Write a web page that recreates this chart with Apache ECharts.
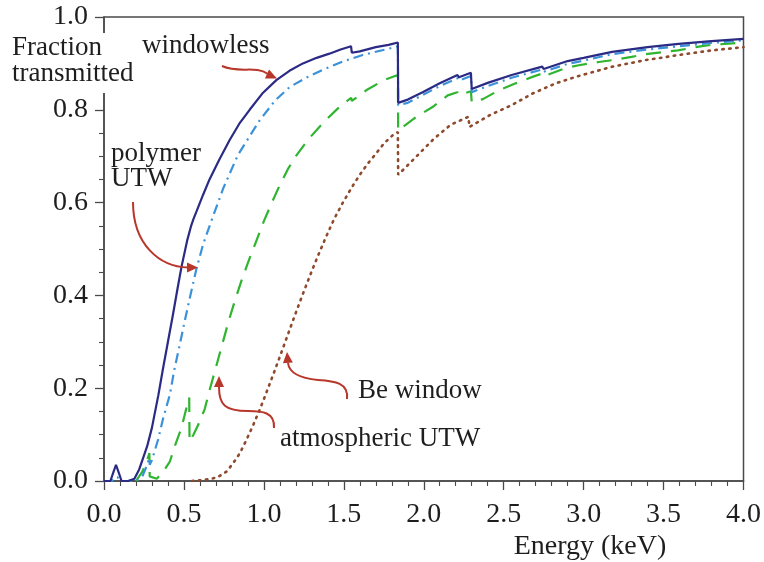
<!DOCTYPE html>
<html>
<head>
<meta charset="utf-8">
<script src="https://cdn.jsdelivr.net/npm/echarts@6/dist/echarts.min.js"></script>
<style>
html,body{margin:0;padding:0;background:#fff;}
#chart{width:764px;height:562px;}
</style>
</head>
<body>
<div id="chart"></div>
<script>
// ---- data (Energy keV, fraction transmitted) ----
const windowlessE = [0.00,0.04,0.06,0.075,0.09,0.11,0.15,0.19,0.22,0.245,0.27,0.30,0.34,0.37,0.40,0.432,0.46,0.485,0.52,0.545,0.56,0.58,0.62,0.66,0.72,0.786,0.85,0.911,0.99,1.078,1.16,1.244,1.33,1.41,1.48,1.545,1.55,1.60,1.70,1.78,1.838,1.840,1.90,1.993,2.10,2.211,2.22,2.23,2.295,2.30,2.40,2.55,2.741,2.75,2.76,2.90,3.00,3.178,3.40,3.594,3.80,4.00];
const windowlessT = [0,0,0.02,0.035,0.02,0,0,0.005,0.025,0.05,0.075,0.115,0.185,0.244,0.30,0.36,0.415,0.462,0.518,0.55,0.565,0.582,0.617,0.65,0.692,0.735,0.772,0.80,0.835,0.864,0.884,0.90,0.912,0.921,0.93,0.937,0.923,0.926,0.935,0.94,0.945,0.815,0.822,0.838,0.857,0.875,0.870,0.874,0.880,0.845,0.858,0.875,0.893,0.888,0.892,0.905,0.912,0.925,0.935,0.942,0.948,0.953];

const polymerE = [0.00,0.05,0.065,0.075,0.085,0.10,0.20,0.24,0.27,0.284,0.286,0.30,0.339,0.37,0.412,0.44,0.474,0.505,0.537,0.578,0.62,0.672,0.745,0.838,0.973,1.07,1.161,1.27,1.368,1.50,1.618,1.70,1.785,1.838,1.840,1.90,1.993,2.10,2.211,2.22,2.23,2.295,2.30,2.40,2.55,2.741,2.75,2.76,2.90,3.00,3.178,3.40,3.594,3.80,4.00];
const polymerT = [0,0,0.008,0.012,0.008,0,0,0.01,0.035,0.05,0.035,0.045,0.09,0.135,0.186,0.24,0.294,0.345,0.395,0.457,0.51,0.561,0.63,0.703,0.777,0.82,0.849,0.87,0.886,0.905,0.918,0.925,0.932,0.937,0.81,0.815,0.832,0.851,0.868,0.863,0.867,0.873,0.838,0.851,0.869,0.887,0.882,0.886,0.899,0.906,0.92,0.93,0.937,0.944,0.95];

const atmosE = [0.20,0.24,0.27,0.284,0.286,0.33,0.37,0.412,0.443,0.485,0.51,0.533,0.535,0.56,0.588,0.63,0.66,0.70,0.74,0.78,0.82,0.86,0.90,0.95,1.00,1.05,1.10,1.15,1.20,1.28,1.37,1.46,1.546,1.55,1.56,1.64,1.75,1.838,1.840,1.95,2.055,2.15,2.21,2.22,2.23,2.295,2.30,2.37,2.47,2.575,2.68,2.74,2.75,2.76,2.887,2.97,3.095,3.18,3.30,3.39,3.51,3.59,3.72,3.80,3.93,4.00];
const atmosT = [0,0.02,0.045,0.06,0.01,0.005,0.02,0.042,0.075,0.115,0.15,0.18,0.085,0.10,0.12,0.155,0.195,0.245,0.295,0.345,0.39,0.432,0.47,0.515,0.56,0.60,0.638,0.672,0.70,0.737,0.772,0.802,0.826,0.819,0.823,0.842,0.864,0.875,0.755,0.784,0.806,0.831,0.838,0.832,0.836,0.84,0.817,0.823,0.842,0.857,0.871,0.878,0.872,0.876,0.89,0.896,0.903,0.907,0.914,0.92,0.925,0.928,0.936,0.94,0.943,0.945];

const beE = [0.55,0.61,0.66,0.71,0.766,0.807,0.85,0.89,0.93,0.973,1.005,1.057,1.10,1.14,1.18,1.223,1.265,1.306,1.35,1.39,1.44,1.494,1.55,1.60,1.65,1.70,1.75,1.805,1.838,1.840,1.878,1.97,2.065,2.17,2.28,2.285,2.41,2.55,2.68,2.825,2.97,3.18,3.386,3.594,3.80,4.00];
const beT = [0,0.002,0.004,0.008,0.02,0.038,0.06,0.088,0.118,0.153,0.181,0.228,0.268,0.306,0.344,0.384,0.422,0.458,0.495,0.527,0.565,0.6,0.633,0.66,0.684,0.705,0.727,0.745,0.752,0.66,0.673,0.705,0.738,0.768,0.785,0.763,0.788,0.81,0.835,0.857,0.873,0.893,0.907,0.918,0.928,0.935];

const seriesNames = ['windowless','polymer UTW','atmospheric UTW','Be window'];
const yAxisTitle = ['Fraction','transmitted'];
const xAxisTitle = 'Energy (keV)';

// ---- rendering ----
const FONT = '"Liberation Serif","Times New Roman",serif';
const TXT = '#1e1e1e';
const ARROW = '#b8372b';
const zip = (xs, ys) => xs.map((x, i) => [x, ys[i]]);

function arrowHead(tx, ty, dx, dy, len, half) {
  const m = Math.hypot(dx, dy); dx /= m; dy /= m;
  const bx = tx - dx * len, by = ty - dy * len;
  return { type: 'polygon', z: 120, shape: { points: [[tx, ty], [bx - dy * half, by + dx * half], [bx + dy * half, by - dx * half]] }, style: { fill: ARROW } };
}
function curve(x1, y1, c1x, c1y, c2x, c2y, x2, y2) {
  return { type: 'bezierCurve', z: 120, shape: { x1, y1, cpx1: c1x, cpy1: c1y, cpx2: c2x, cpy2: c2y, x2, y2 }, style: { stroke: ARROW, lineWidth: 2, fill: null } };
}
function label(text, x, baseline) {
  return { type: 'text', z: 130, x: x, y: baseline - 9, style: { text: text, font: '27px ' + FONT, fill: TXT, textAlign: 'left', textVerticalAlign: 'middle' } };
}

const chart = echarts.init(document.getElementById('chart'), null, { renderer: 'canvas' });
const axisCommon = {
  type: 'value',
  axisLine: { show: true, lineStyle: { color: '#4a4a4a', width: 1.5 } },
  axisTick: { show: true, length: 9, lineStyle: { color: '#4a4a4a', width: 1.3 } },
  minorTick: { show: true, length: 5, lineStyle: { color: '#4a4a4a', width: 1.1 } },
  splitLine: { show: false },
  minorSplitLine: { show: false }
};
chart.setOption({
  animation: false,
  backgroundColor: '#ffffff',
  grid: { left: 104, right: 19, top: 17, bottom: 81, show: true, borderColor: '#4a4a4a', borderWidth: 1.5, backgroundColor: 'transparent' },
  xAxis: Object.assign({}, axisCommon, {
    min: 0, max: 4, interval: 0.5,
    minorTick: Object.assign({}, axisCommon.minorTick, { splitNumber: 5 }),
    axisLabel: { fontFamily: FONT, fontSize: 28, color: TXT, margin: 20, formatter: v => v.toFixed(1) }
  }),
  yAxis: Object.assign({}, axisCommon, {
    min: 0, max: 1, interval: 0.2,
    minorTick: Object.assign({}, axisCommon.minorTick, { splitNumber: 4 }),
    axisLabel: { fontFamily: FONT, fontSize: 28, color: TXT, margin: 16, formatter: v => v.toFixed(1) }
  }),
  series: [
    { name: seriesNames[3], type: 'line', data: zip(beE, beT), showSymbol: false, symbol: 'none',
      lineStyle: { color: '#8e4a2c', width: 2.6, type: [1.5, 5.5], cap: 'round' } },
    { name: seriesNames[2], type: 'line', data: zip(atmosE, atmosT), showSymbol: false, symbol: 'none',
      lineStyle: { color: '#2fb52f', width: 2.2, type: [15, 10] } },
    { name: seriesNames[1], type: 'line', data: zip(polymerE, polymerT), showSymbol: false, symbol: 'none',
      lineStyle: { color: '#3b92d9', width: 2.2, type: [10, 5, 2, 5] } },
    { name: seriesNames[0], type: 'line', data: zip(windowlessE, windowlessT), showSymbol: false, symbol: 'none',
      lineStyle: { color: '#2b2a85', width: 2.2 } }
  ],
  graphic: [
    // gap in the left axis where the axis title sits
    { type: 'rect', z: 110, shape: { x: 98, y: 33, width: 12, height: 60 }, style: { fill: '#ffffff' } },
    label(yAxisTitle[0], 12, 57),
    label(yAxisTitle[1], 12, 83),
    label(seriesNames[0], 142, 55),
    label('polymer', 111, 163),
    label('UTW', 111, 188),
    label(seriesNames[3], 358, 400),
    label(seriesNames[2], 280, 448),
    { type: 'text', z: 130, x: 590, y: 547, style: { text: xAxisTitle, font: '28px ' + FONT, fill: TXT, textAlign: 'center', textVerticalAlign: 'middle' } },
    // arrows
    curve(222, 66, 240, 74, 255, 65, 268, 74),
    arrowHead(277, 78.5, 1, 0.45, 11, 5),
    curve(133, 202, 133, 245, 160, 267, 188, 267.5),
    arrowHead(198, 267.5, 1, 0, 11, 5),
    curve(274, 428, 275, 412, 262, 411, 248, 411),
    curve(248, 411, 225, 411, 219, 405, 219, 387),
    arrowHead(219, 376, 0, -1, 11, 5),
    curve(347, 399, 349, 383, 335, 381, 318, 380),
    curve(318, 380, 298, 378, 289, 372, 288, 363),
    arrowHead(287, 352, -0.08, -1, 11, 5)
  ]
});
</script>
</body>
</html>
